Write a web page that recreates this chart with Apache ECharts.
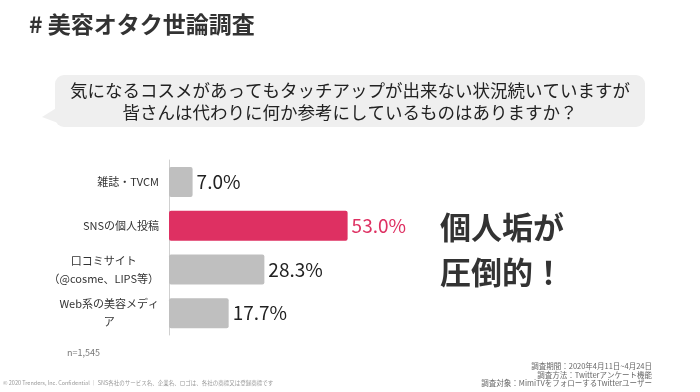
<!DOCTYPE html>
<html><head><meta charset="utf-8">
<script src="https://cdn.jsdelivr.net/npm/echarts@6/dist/echarts.min.js"></script>
<style>html,body{margin:0;padding:0;background:#fff}#c{width:700px;height:392px}</style>
</head><body><div id="c"></div>
<script>
const categories = ['雑誌・TVCM', 'SNSの個人投稿', '口コミサイト\n（@cosme、LIPS等）', 'Web系の美容メディ\nア'];
const values = [7.0, 53.0, 28.3, 17.7];
const highlightIndex = 1;
const titleText = '# 美容オタク世論調査';
const questionText = '気になるコスメがあってもタッチアップが出来ない状況続いていますが\n皆さんは代わりに何か参考にしているものはありますか？';
const calloutText = '個人垢が\n圧倒的！';
const sampleText = 'n=1,545';
const surveyNotes = '調査期間：2020年4月11日~4月24日\n調査方法：Twitterアンケート機能\n調査対象：MimiTVをフォローするTwitterユーザー';
const copyrightText = '© 2020 Trenders, Inc. Confidential ｜ SNS各社のサービス名、企業名、ロゴは、各社の商標又は登録商標です';

const FONT = '"Noto Sans CJK JP", "Noto Sans", sans-serif';
const GRAY = '#bfbfbf', PINK = '#de3062';

const chart = echarts.init(document.getElementById('c'), null, {renderer: 'canvas'});
chart.setOption({
  animation: false,
  textStyle: {fontFamily: FONT},
  grid: {left: 169, right: 194, top: 160, bottom: 57, containLabel: false},
  xAxis: {type: 'value', min: 0, max: 100, show: false},
  yAxis: {
    type: 'category', data: categories, inverse: true,
    axisLine: {show: true, lineStyle: {color: '#d0d0d0', width: 1}},
    axisTick: {show: false},
    axisLabel: {
      margin: 10, color: '#333', fontSize: 11, fontFamily: FONT, lineHeight: 18,
      formatter: v => v.split('\n').map(s => '{a|' + s + '}').join('\n'),
      rich: {a: {align: 'center', fontSize: 11, lineHeight: 18, color: '#333', fontFamily: FONT}}
    }
  },
  series: [{
    type: 'bar', barWidth: 30,
    data: values.map((v, i) => ({
      value: v,
      itemStyle: {color: i === highlightIndex ? PINK : GRAY, borderRadius: 2},
      label: {color: i === highlightIndex ? PINK : '#222'}
    })),
    label: {show: true, position: 'right', distance: 4, fontSize: 19, fontFamily: FONT,
      formatter: p => p.value.toFixed(1) + '%'}
  }],
  graphic: [
    {type: 'text', left: 29, top: 13, style: {text: titleText, font: 'bold 23px ' + FONT, fill: '#333'}},
    {type: 'polygon', shape: {points: [[58, 107], [42, 117], [58, 123]]}, style: {fill: '#efefef'}},
    {type: 'rect', shape: {x: 55, y: 75, width: 590, height: 52, r: 9}, style: {fill: '#efefef'}},
    {type: 'text', x: 350, y: 101, style: {text: questionText, font: '17.5px ' + FONT, fill: '#222', align: 'center', verticalAlign: 'middle', lineHeight: 22}},
    {type: 'text', x: 440, y: 249.5, style: {text: calloutText, font: 'bold 31px ' + FONT, fill: '#333', align: 'left', verticalAlign: 'middle', lineHeight: 45}},
    {type: 'text', x: 67, y: 353, style: {text: sampleText, font: '9px ' + FONT, fill: '#777', verticalAlign: 'middle'}},
    {type: 'text', x: 652, y: 375, style: {text: surveyNotes, font: '7.5px ' + FONT, fill: '#666', align: 'right', verticalAlign: 'middle', lineHeight: 8.5}},
    {type: 'text', x: 3, y: 383, style: {text: copyrightText, font: '5.5px ' + FONT, fill: '#999', verticalAlign: 'middle'}}
  ]
});
</script></body></html>
